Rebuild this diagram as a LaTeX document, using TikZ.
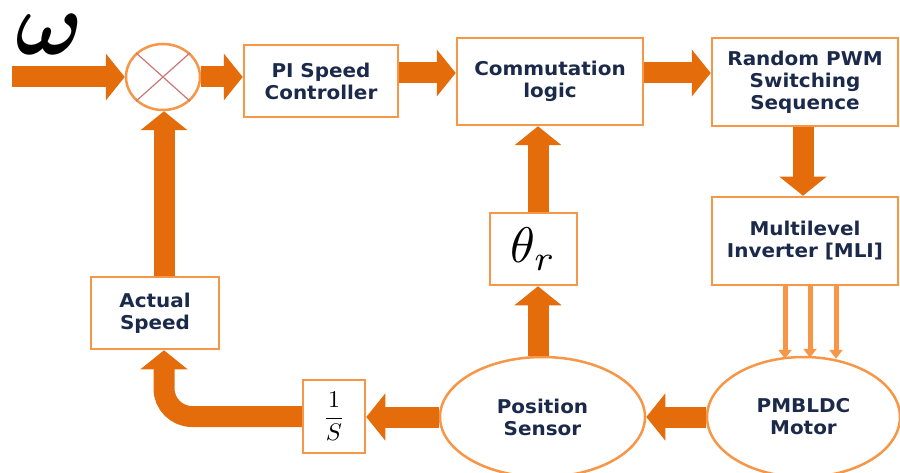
\documentclass[tikz,border=0pt]{standalone}
\usepackage{fontspec}
\usepackage{bm}
\setmainfont[FakeStretch=1.05]{DejaVu Sans}
\usetikzlibrary{arrows.meta,shapes.geometric}
\definecolor{arr}{HTML}{E46C0A}
\definecolor{bord}{HTML}{F79646}
\definecolor{txt}{HTML}{1B2A4A}
\definecolor{xline}{HTML}{C9787A}
\begin{document}
\begin{tikzpicture}[x=1pt,y=-1pt]
\useasboundingbox (0,0) rectangle (900,473);
\tikzset{
 blk/.style={draw=bord, line width=2.5pt, fill=white, align=center,
   font=\bfseries\fontsize{19}{22}\selectfont, text=txt, inner sep=0pt},
 ell/.style={blk, ellipse},
 fat/.style={draw=arr, line width=21pt, -{Triangle[length=19pt,width=46pt]}},
 slim/.style={draw=bord, line width=5pt, -{Triangle[length=9pt,width=13pt]}},
}
% nodes
\node[ellipse, draw=bord, line width=2.5pt, fill=white, minimum width=74pt, minimum height=66pt, inner sep=0pt] (sum) at (163,77) {};
\draw[xline, line width=1.2pt] (sum.north west) -- (sum.south east) (sum.north east) -- (sum.south west);
\node[blk, minimum width=154pt, minimum height=72pt] (pi) at (321,81) {PI Speed\\Controller};
\node[blk, minimum width=186pt, minimum height=87pt] (comm) at (550,81.5) {Commutation\\logic};
\node[blk, minimum width=186pt, minimum height=88pt] (rnd) at (805,82) {Random PWM\\Switching\\Sequence};
\node[blk, minimum width=186pt, minimum height=88pt] (mli) at (805,241) {Multilevel\\Inverter [MLI]};
\node[blk, minimum width=87pt, minimum height=72pt] (theta) at (533.5,249) {};
\node[scale=5, inner sep=0pt] at (533.5,249) {$\theta_r$};
\node[blk, minimum width=128pt, minimum height=72pt] (act) at (155,313) {Actual\\Speed};
\node[blk, minimum width=62pt, minimum height=73pt] (ones) at (334,416.5) {};
\node[scale=2.4, inner sep=0pt] at (334,416.5) {$\displaystyle\frac{1}{S}$};
\node[ell, minimum width=205pt, minimum height=120pt] (pos) at (542.5,417) {Position\\Sensor};
\node[ell, minimum width=193pt, minimum height=120pt] (mot) at (803.5,417) {PMBLDC\\Motor};
\node[anchor=base west, inner sep=0pt, scale=9] (w) at (14,55) {$\bm{\omega}$};
% coordinates
\coordinate (in) at (12,77);
\coordinate (c1) at (164,0);
\coordinate (c2) at (538,0);
\coordinate (c3) at (803,0);
\coordinate (t1) at (785,0);
\coordinate (t2) at (810,0);
\coordinate (t3) at (836,0);
\coordinate (r1) at (0,73);
% connectors
\draw[fat] (in) -- (sum.west);
\draw[fat] (sum.east) -- (sum.east -| pi.west);
\draw[fat] (r1 -| pi.east) -- (r1 -| comm.west);
\draw[fat] (r1 -| comm.east) -- (r1 -| rnd.west);
\draw[fat] (c3 |- rnd.south) -- (c3 |- mli.north);
\draw[slim] (t1 |- mli.south) -- ([yshift=-3pt]t1 |- mot.north);
\draw[slim] (t2 |- mli.south) -- ([yshift=-2pt]t2 |- mot.north);
\draw[slim] (t3 |- mli.south) -- ([yshift=-3pt]t3 |- mot.north);
\draw[fat] (mot.west) -- (pos.east);
\draw[fat] (pos.west) -- (pos.west -| ones.east);
\draw[fat] (c2 |- pos.north) -- (c2 |- theta.south);
\draw[fat] (c2 |- theta.north) -- (c2 |- comm.south);
\draw[fat, rounded corners=28pt] (ones.west) -| (c1 |- act.south);
\draw[fat] (c1 |- act.north) -- (c1 |- sum.south);
\end{tikzpicture}
\end{document}
